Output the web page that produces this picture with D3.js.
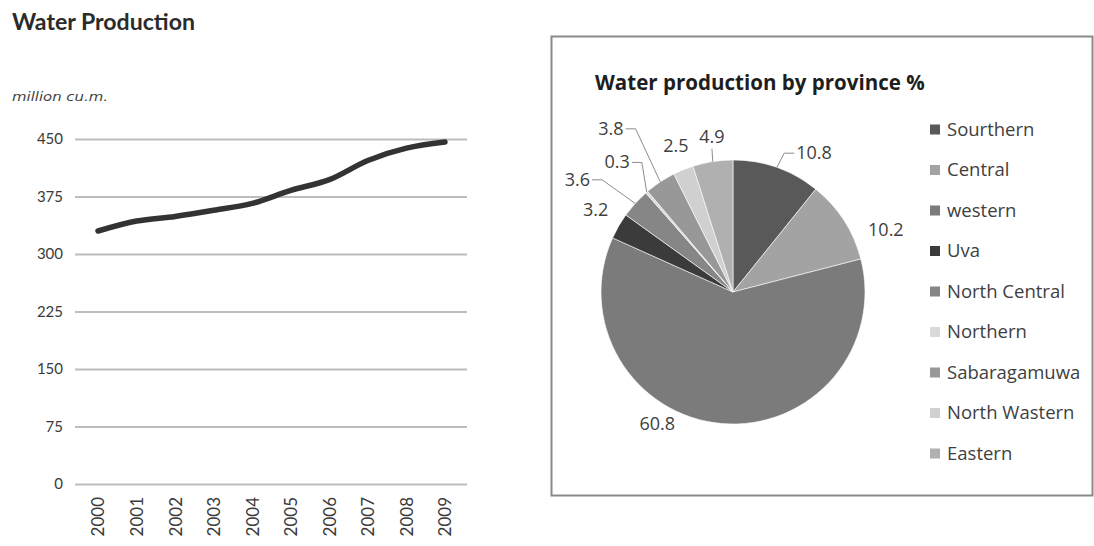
<!DOCTYPE html>
<html>
<head>
<meta charset="utf-8">
<script src="https://cdn.jsdelivr.net/npm/d3@7"></script>
<style>
  html, body { margin: 0; padding: 0; background: #fff; }
  svg { display: block; }
</style>
</head>
<body>
<svg id="chart" width="1094" height="546"></svg>
<script>
// ---- Line chart: annual water production (million cu.m.) ----
const years = ["2000", "2001", "2002", "2003", "2004", "2005", "2006", "2007", "2008", "2009"];
const production = [330, 343, 349, 357, 366, 383, 397, 422, 438, 446];
const yTicks = [0, 75, 150, 225, 300, 375, 450];

// ---- Pie chart: share of production by province (%) ----
const provinces = ["Sourthern", "Central", "western", "Uva", "North Central",
                   "Northern", "Sabaragamuwa", "North Wastern", "Eastern"];
const shares = [10.8, 10.2, 60.8, 3.2, 3.6, 0.3, 3.8, 2.5, 4.9];
const sliceColors = ["#595959", "#a3a3a3", "#7b7b7b", "#3b3b3b", "#868686",
                     "#d9d9d9", "#989898", "#d0d0d0", "#b0b0b0"];

const svg = d3.select("#chart");

// ===== Left panel =====
const mainTitle = svg.append("text")
  .attr("x", 12).attr("y", 30)
  .attr("font-family", "Lato, sans-serif")
  .attr("font-weight", "bold")
  .attr("font-size", 20)
  .attr("fill", "#2b2b2b")
  .text("Water Production");
mainTitle.attr("font-size", 20 * 183 / mainTitle.node().getComputedTextLength());

const unitLabel = svg.append("text")
  .attr("x", 12).attr("y", 101)
  .attr("font-family", "'DejaVu Sans', sans-serif")
  .attr("font-style", "italic")
  .attr("font-size", 12)
  .attr("fill", "#444")
  .text("million cu.m.");
unitLabel.attr("textLength", 96).attr("lengthAdjust", "spacingAndGlyphs");

const x = d3.scalePoint().domain(years).range([98, 445]);
const y = d3.scaleLinear().domain([0, 450]).range([484, 139]);

// horizontal gridlines with value labels
const yAxis = d3.axisLeft(y).tickValues(yTicks).tickSize(-392).tickPadding(12);
const gy = svg.append("g").attr("transform", "translate(75,0)").call(yAxis);
gy.select(".domain").remove();
gy.selectAll(".tick line").attr("stroke", "#bdbdbd").attr("stroke-width", 2);
gy.selectAll(".tick text")
  .attr("font-family", "Lato, sans-serif")
  .attr("font-size", 15)
  .attr("fill", "#3a3a3a");

// rotated year labels
const xAxis = d3.axisBottom(x).tickSize(0).tickPadding(0);
const gx = svg.append("g").attr("transform", "translate(0,497)").call(xAxis);
gx.select(".domain").remove();
gx.selectAll(".tick text")
  .attr("font-family", "Lato, sans-serif")
  .attr("font-size", 17)
  .attr("fill", "#3a3a3a")
  .attr("text-anchor", "end")
  .attr("transform", "rotate(-90)")
  .attr("x", 0).attr("y", 0).attr("dy", "0.35em");

const line = d3.line()
  .x((d, i) => x(years[i]))
  .y(d => y(d))
  .curve(d3.curveMonotoneX);

svg.append("path")
  .datum(production)
  .attr("d", line)
  .attr("fill", "none")
  .attr("stroke", "#333")
  .attr("stroke-width", 5.5)
  .attr("stroke-linecap", "round")
  .attr("stroke-linejoin", "round");

// ===== Right panel =====
svg.append("rect")
  .attr("x", 551.5).attr("y", 36.5)
  .attr("width", 541).attr("height", 459)
  .attr("fill", "#fff")
  .attr("stroke", "#8a8a8a")
  .attr("stroke-width", 2);

const pieTitle = svg.append("text")
  .attr("x", 595).attr("y", 90)
  .attr("font-family", "'Open Sans', sans-serif")
  .attr("font-weight", "bold")
  .attr("font-size", 18)
  .attr("fill", "#1e1e1e")
  .text("Water production by province %");
// fit the title to its slot
const tw = pieTitle.node().getComputedTextLength();
pieTitle.attr("font-size", 18 * 330 / tw);

const cx = 733, cy = 292, R = 132;
const pie = d3.pie().sort(null).value(d => d);
const arcs = pie(shares);
const arc = d3.arc().innerRadius(0).outerRadius(R);
const rim = d3.arc().innerRadius(R).outerRadius(R);

const gp = svg.append("g").attr("transform", `translate(${cx},${cy})`);
gp.selectAll("path.slice")
  .data(arcs)
  .join("path")
  .attr("class", "slice")
  .attr("d", arc)
  .attr("fill", (d, i) => sliceColors[i])
  .attr("stroke", "#fff")
  .attr("stroke-width", 0.6);

// label placement: angle shift from slice middle (deg), distance from centre (px), leader flag
const labelShift = [10.8, 10.7, 25, 0.9, -6.3, -0.9, -3.3, 0.8, 1.1];
const labelDist  = [161, 165, 152, 160, 192, 174, 204, 157, 157];
const hasLeader  = [true, false, false, false, true, true, true, false, true];

const fmt = d3.format(".1f");
arcs.forEach((d, i) => {
  const mid = (d.startAngle + d.endAngle) / 2 + labelShift[i] * Math.PI / 180;
  const lx = Math.sin(mid) * labelDist[i];
  const ly = -Math.cos(mid) * labelDist[i];
  const t = gp.append("text")
    .attr("x", lx).attr("y", ly)
    .attr("text-anchor", "middle")
    .attr("dy", "0.35em")
    .attr("font-family", "'Open Sans', sans-serif")
    .attr("font-size", 18)
    .attr("fill", "#404040")
    .text(fmt(shares[i]));
  if (!hasLeader[i]) return;
  const b = t.node().getBBox();
  const [ex, ey] = rim.centroid(d);
  let pts;
  const midY = b.y + b.height / 2 + 1;
  if (ey > b.y + b.height && ex > b.x && ex < b.x + b.width) {
    // label sits above the rim point: drop straight down
    pts = [[ex, ey], [b.x + b.width / 2, b.y + b.height + 1]];
  } else if (ex > b.x + b.width) {
    pts = [[ex, ey], [b.x + b.width + 12, midY], [b.x + b.width + 2, midY]];
  } else {
    pts = [[ex, ey], [b.x - 12, midY], [b.x - 2, midY]];
  }
  gp.append("path")
    .attr("d", d3.line()(pts))
    .attr("fill", "none")
    .attr("stroke", "#8c8c8c")
    .attr("stroke-width", 1);
});

// legend
const legend = svg.append("g");
const ly0 = 129.5, lstep = 40.5;
provinces.forEach((p, i) => {
  const yy = ly0 + i * lstep;
  legend.append("rect")
    .attr("x", 930).attr("y", yy - 5)
    .attr("width", 10).attr("height", 10)
    .attr("fill", sliceColors[i]);
  legend.append("text")
    .attr("x", 947).attr("y", yy)
    .attr("dy", "0.35em")
    .attr("font-family", "'Open Sans', sans-serif")
    .attr("font-size", 18.5)
    .attr("fill", "#404040")
    .text(p);
});
</script>
</body>
</html>
